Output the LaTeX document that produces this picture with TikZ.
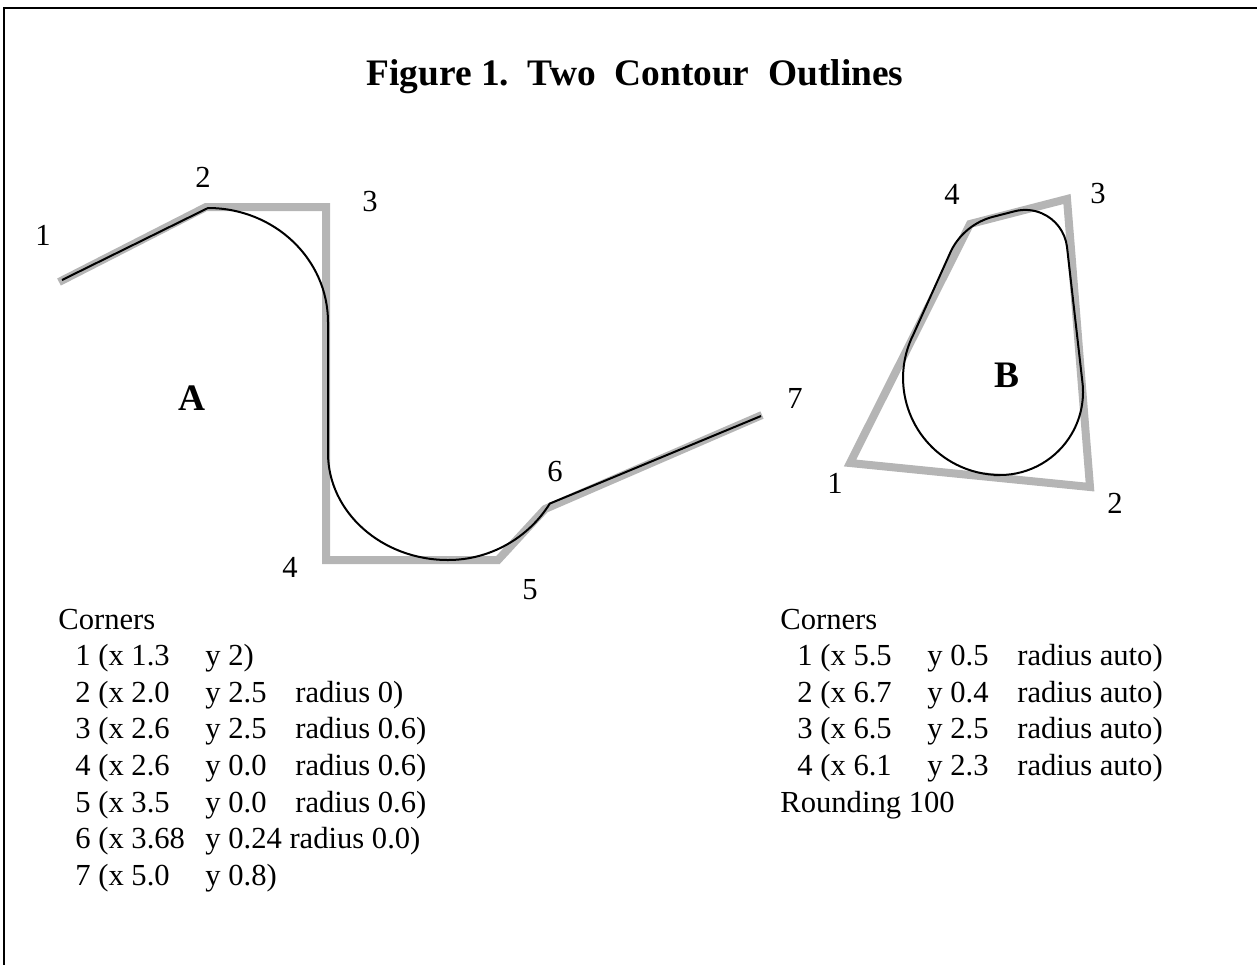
\documentclass[tikz,border=0pt]{standalone}
\usepackage{fontspec}
\setmainfont{Liberation Serif}
\usepackage{xcolor}
\usepackage{tikz}
\usetikzlibrary{positioning}

\definecolor{outlinegray}{gray}{0.71}

% one row of a corner list: number and x, y, radius
\newcommand{\crow}[3]{\hspace*{8.5pt}\makebox[65pt][l]{#1}\makebox[45pt][l]{#2}#3}

\begin{document}
\begin{tikzpicture}[
  x=0.5pt, y=-0.5pt,
  frameline/.style={black, line width=1.2pt},
  outline/.style={draw=outlinegray, line width=4pt, line join=miter},
  contour/.style={draw=black, line width=1pt},
  cornerlbl/.style={inner sep=0pt, font=\fontsize{15.3}{18}\selectfont},
  shapelbl/.style={inner sep=0pt, font=\fontsize{18.7}{22}\selectfont\bfseries},
  cornerlist/.style={anchor=base west, inner sep=0pt, font=\fontsize{15.3}{18.3}\selectfont}
]

% Khung: 1 đơn vị = 1 px của ảnh, y đi xuống
\useasboundingbox (0,0) rectangle (1257,964);
\draw[frameline] (4,1000) -- (4,8) -- (1300,8);

\node[anchor=base, inner sep=0pt, font=\fontsize{18.7}{22}\selectfont\bfseries] (title) at (635,85)
  {Figure 1.\ \ Two\ \ Contour\ \ Outlines};

% Đường A: đa giác góc (xám) và đường bo (đen)
\draw[outline] (59,282) -- (206,207) -- (326,207) -- (326,560) -- (498,560) -- (545,509) -- (762,415);
\draw[contour] (62,280) -- (208,208)
  arc[start angle=-90, end angle=0, x radius=120, y radius=114]
  -- (328,453)
  arc[start angle=180, end angle=90, x radius=120, y radius=107]
  arc[start angle=90, end angle=32, radius=120]
  -- (761,416);

\node[cornerlbl] (a1) at (43,235) {1};
\node[cornerlbl] (a2) at (203,177) {2};
\node[cornerlbl] (a3) at (370,202) {3};
\node[cornerlbl] (a4) at (290,567) {4};
\node[cornerlbl] (a5) at (530,590) {5};
\node[cornerlbl] (a6) at (555,472) {6};
\node[cornerlbl] (a7) at (795,398) {7};
\node[shapelbl] (nameA) at (192,398) {A};

% Đường B: tứ giác khép kín, bo tự động
\draw[outline] (850,463) -- (1090,487) -- (1067,199) -- (970,224) -- cycle;
\draw[contour] (1000,475)
  arc[start angle=90, end angle=-6.7, radius=83]
  -- (1067,247)
  arc[start angle=-6.7, end angle=-104.5, radius=42]
  -- (993,216.8)
  arc[start angle=-104.5, end angle=-153.3, radius=65]
  -- (913.4,334.4)
  arc[start angle=206.7, end angle=90, radius=97]
  -- cycle;

\node[cornerlbl] (b1) at (835,483) {1};
\node[cornerlbl] (b2) at (1115,503) {2};
\node[cornerlbl] (b3) at (1098,194) {3};
\node[cornerlbl] (b4) at (952,194) {4};
\node[shapelbl] (nameB) at (1007,375) {B};

% Danh sách góc
\node[cornerlist] (listA) at (58,629) {\begin{tabular}[t]{@{}l@{}}
  Corners\\
  \crow{1 (x 1.3}{y 2)}{}\\
  \crow{2 (x 2.0}{y 2.5}{radius 0)}\\
  \crow{3 (x 2.6}{y 2.5}{radius 0.6)}\\
  \crow{4 (x 2.6}{y 0.0}{radius 0.6)}\\
  \crow{5 (x 3.5}{y 0.0}{radius 0.6)}\\
  \crow{6 (x 3.68}{y 0.24 radius 0.0)}{}\\
  \crow{7 (x 5.0}{y 0.8)}{}
\end{tabular}};

\node[cornerlist] (listB) at (780,629) {\begin{tabular}[t]{@{}l@{}}
  Corners\\
  \crow{1 (x 5.5}{y 0.5}{radius auto)}\\
  \crow{2 (x 6.7}{y 0.4}{radius auto)}\\
  \crow{3 (x 6.5}{y 2.5}{radius auto)}\\
  \crow{4 (x 6.1}{y 2.3}{radius auto)}\\
  Rounding 100
\end{tabular}};

\end{tikzpicture}
\end{document}
